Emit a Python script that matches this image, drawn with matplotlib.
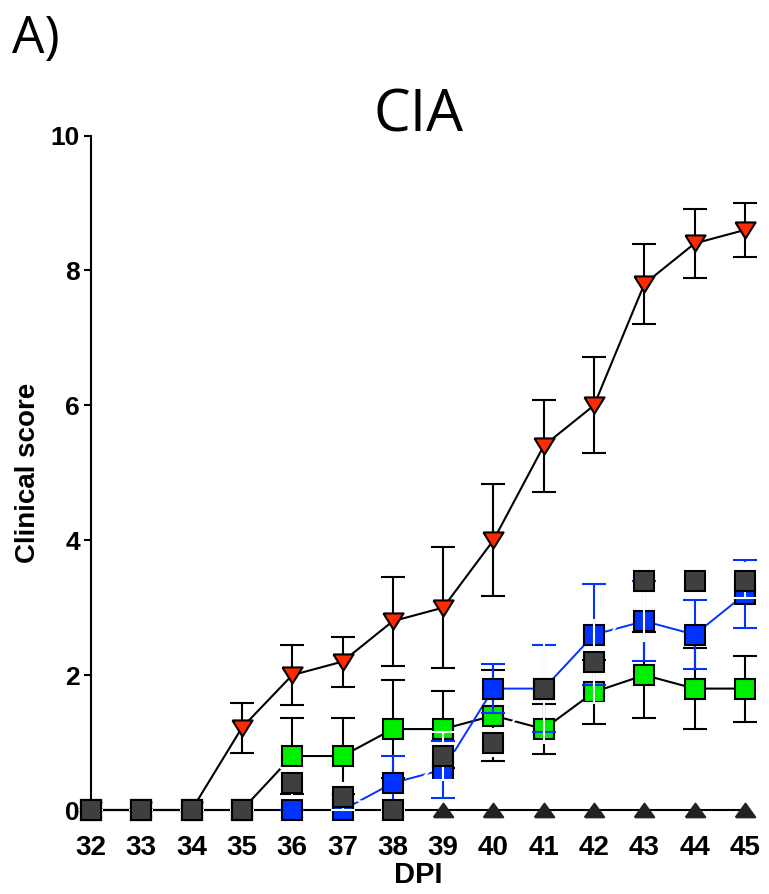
import matplotlib
matplotlib.use("Agg")
import matplotlib.pyplot as plt

plt.rcParams['font.family'] = ['Liberation Sans', 'DejaVu Sans']

# ---------------- data ----------------
dpi = [32, 33, 34, 35, 36, 37, 38, 39, 40, 41, 42, 43, 44, 45]

cia_mean = [0, 0, 0, 1.22, 2.0, 2.2, 2.8, 3.0, 4.0, 5.4, 6.0, 7.8, 8.4, 8.6]
cia_sem = [0, 0, 0, 0.37, 0.44, 0.37, 0.66, 0.9, 0.83, 0.68, 0.71, 0.59, 0.51, 0.4]

green_mean = [0, 0, 0, 0, 0.8, 0.8, 1.2, 1.2, 1.4, 1.2, 1.75, 2.0, 1.8, 1.8]
green_sem = [0, 0, 0, 0, 0.57, 0.57, 0.72, 0.57, 0.67, 0.37, 0.48, 0.64, 0.6, 0.49]

blue_mean = [0, 0, 0, 0, 0, 0, 0.4, 0.6, 1.8, 1.8, 2.6, 2.8, 2.6, 3.2]
blue_sem = [0, 0, 0, 0, 0, 0, 0.4, 0.42, 0.36, 0.65, 0.75, 0.59, 0.51, 0.5]

grey_mean = [0, 0, 0, 0, 0.4, 0.2, 0, 0.8, 1.0, 1.8, 2.2, 3.4, 3.4, 3.4]
grey_sem = [0, 0, 0, 0, 0.22, 0.2, 0, 0.36, 0.2, 0.8, 0.62, 0.9, 0.2, 0.26]

ctrl_mean = [0, 0, 0, 0, 0, 0, 0, 0, 0, 0, 0, 0, 0, 0]

y_ticks = [0, 2, 4, 6, 8, 10]

# ---------------- styles ----------------
RED = '#FF2A00'
GREEN = '#00EE00'
BLUE = '#0033FF'
GREY = '#3F3F3F'
BLACK = '#000000'
CTRL = '#222222'

tri_down = [(-1, 0.8), (1, 0.8), (0, -0.8), (-1, 0.8)]
tri_up = [(-1, -0.7), (1, -0.7), (0, 0.7), (-1, -0.7)]

fig = plt.figure(figsize=(7.69, 8.94), dpi=100)
ax = fig.add_axes([91 / 769, 1 - 810 / 894, 654 / 769, (810 - 135.5) / 894])


def ebar(x, y, e, color, z):
    c = ax.errorbar(x, y, yerr=e, fmt='none', ecolor=color, elinewidth=1.5,
                    capsize=8.3, capthick=1.5, zorder=z)
    for ch in c.get_children():
        ch.set_clip_on(False)
        ch.set_zorder(z)


def line(x, y, color, z, lw=1.5):
    ax.plot(x, y, '-', color=color, lw=lw, zorder=z, clip_on=False,
            solid_capstyle='butt')


def marks(x, y, marker, face, z, ms=15, edge=BLACK):
    ax.plot(x, y, linestyle='none', marker=marker, ms=ms, mfc=face, mec=edge,
            mew=1.5, zorder=z, clip_on=False)


# CIA (red) - lowest among markers
line(dpi, cia_mean, BLACK, 1.0)
ebar(dpi, cia_mean, cia_sem, BLACK, 1.05)

# green
ebar(dpi, green_mean, green_sem, BLACK, 1.1)
line(dpi, green_mean, BLACK, 1.15)

# blue line
line(dpi, blue_mean, BLUE, 1.2, lw=1.4)

# grey (white line)
line(dpi, grey_mean, 'white', 1.5)

# control baseline
line(dpi, ctrl_mean, BLACK, 1.7)

# markers / bars in stacking order
marks(dpi, cia_mean, tri_down, RED, 2.0, ms=14.5)
marks(dpi, ctrl_mean, tri_up, CTRL, 2.1, ms=14, edge=CTRL)
marks(dpi, green_mean, 's', GREEN, 2.5)
ebar(dpi, blue_mean, blue_sem, BLUE, 3.0)
marks(dpi, blue_mean, 's', BLUE, 3.5)
ebar(dpi, grey_mean, grey_sem, 'white', 4.0)
marks(dpi, grey_mean, 's', GREY, 4.5)

# axes styling
ax.set_xlim(32, 45)
ax.set_ylim(0, 10)
for s in ['top', 'right', 'bottom']:
    ax.spines[s].set_visible(False)
ax.spines['left'].set_linewidth(1.5)
ax.spines['left'].set_zorder(0.5)

ax.set_yticks(y_ticks)
ax.set_yticklabels([str(v) for v in y_ticks], fontweight='bold')
ax.tick_params(axis='y', direction='out', length=5, width=1.5, pad=3, labelsize=19)

ax.set_xticks(dpi)
ax.set_xticklabels([str(v) for v in dpi], fontweight='bold')
ax.tick_params(axis='x', length=0, pad=18, labelsize=20)

ax.set_xlabel('DPI', fontsize=21, fontweight='bold', labelpad=0)
ax.set_ylabel('Clinical score', fontsize=20, fontweight='bold')
ax.yaxis.set_label_coords((41 - 91) / 654, 0.5)

fig.text(419 / 769, 1 - 131.7 / 894, 'CIA', fontsize=42, ha='center',
         va='baseline', family=['Open Sans', 'DejaVu Sans'])
fig.text(12 / 769, 1 - 53 / 894, 'A)', fontsize=37, ha='left',
         va='baseline', family=['Open Sans', 'DejaVu Sans'])

fig.savefig('out.png', dpi=100)
